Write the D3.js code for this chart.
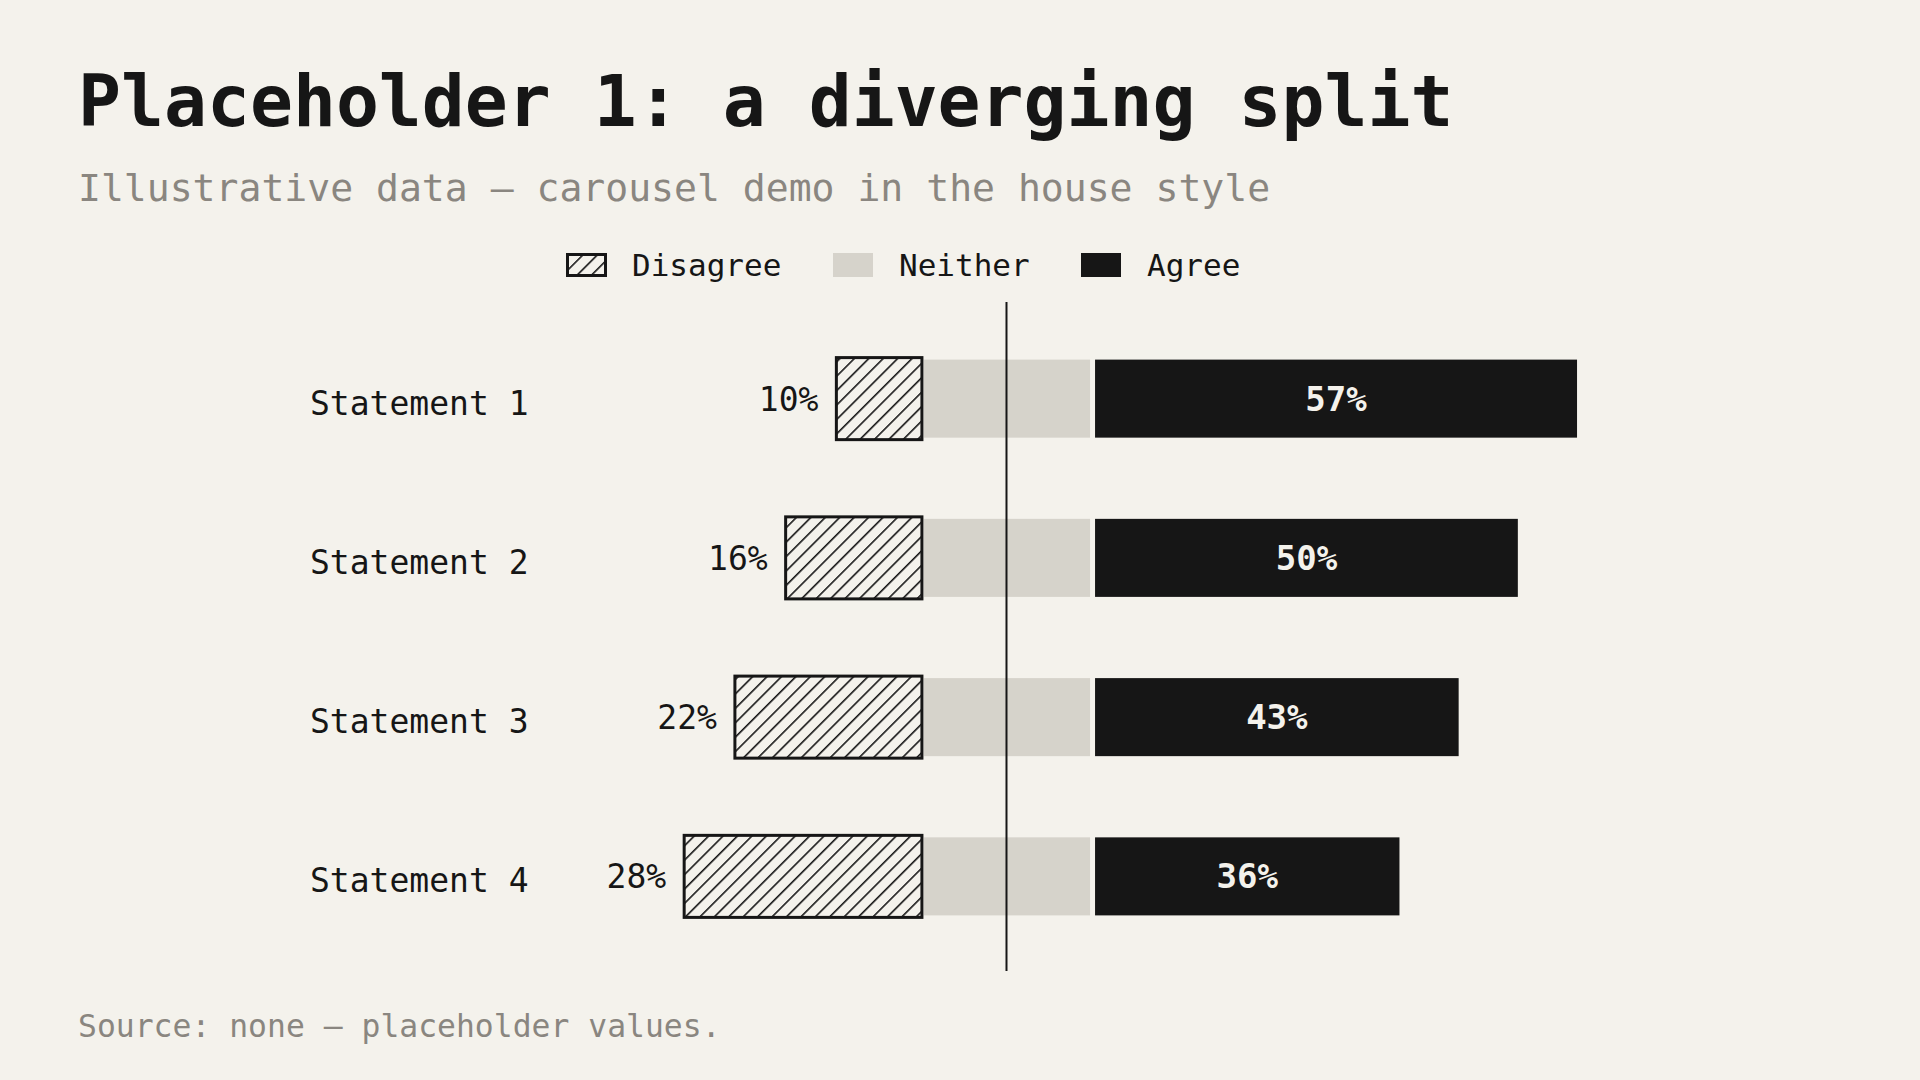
<!DOCTYPE html>
<html>
<head>
<meta charset="utf-8">
<script src="https://cdn.jsdelivr.net/npm/d3@7"></script>
<style>
  html, body { margin: 0; padding: 0; background: #f4f2ec; }
  svg { display: block; }
  text { font-family: "DejaVu Sans Mono", "Liberation Mono", monospace; }
</style>
</head>
<body>
<svg id="chart" width="1920" height="1080"></svg>
<script>
const categories = ["Statement 1", "Statement 2", "Statement 3", "Statement 4"];
const disagree = [10, 16, 22, 28];
const neither = [20, 20, 20, 20];
const agree = [57, 50, 43, 36];
const seriesNames = ["Disagree", "Neither", "Agree"];
const titleText = "Placeholder 1: a diverging split";
const subtitleText = "Illustrative data — carousel demo in the house style";
const sourceText = "Source: none — placeholder values.";

const BG = "#f4f2ec", INK = "#161616", MID = "#d6d3cb", GREY = "#8a8680";

const svg = d3.select("#chart");
svg.append("rect").attr("width", 1920).attr("height", 1080).attr("fill", BG);

const defs = svg.append("defs");
const pat = defs.append("pattern")
  .attr("id", "hatch").attr("patternUnits", "userSpaceOnUse")
  .attr("width", 10.2).attr("height", 10.2)
  .attr("patternTransform", "rotate(45)");
pat.append("rect").attr("width", 10.2).attr("height", 10.2).attr("fill", BG);
pat.append("line").attr("x1", 0).attr("y1", 0).attr("x2", 0).attr("y2", 10.2)
  .attr("stroke", INK).attr("stroke-width", 3.2);

// Titles
svg.append("text").attr("x", 78).attr("y", 126)
  .attr("font-size", 71.4).attr("font-weight", 700).attr("fill", INK)
  .text(titleText);
svg.append("text").attr("x", 78).attr("y", 201)
  .attr("font-size", 38.1).attr("fill", GREY)
  .text(subtitleText);
svg.append("text").attr("x", 78).attr("y", 1037)
  .attr("font-size", 31.4).attr("fill", GREY)
  .text(sourceText);

// Scales
const x = d3.scaleLinear().domain([-50, 70]).range([583.7, 1598.4]);
const y = d3.scaleBand().domain(categories).range([319, 956])
  .paddingInner(0.51).paddingOuter(0.255);
const bh = y.bandwidth();

const rows = categories.map((c, i) => ({ c, d: disagree[i], n: neither[i], a: agree[i] }));

const g = svg.append("g");

// Neither
g.selectAll(".nei").data(rows).join("rect")
  .attr("x", d => x(-d.n / 2) + 2)
  .attr("width", d => x(d.n / 2) - 1 - (x(-d.n / 2) + 2))
  .attr("y", d => y(d.c)).attr("height", bh)
  .attr("fill", MID);

// Disagree
g.selectAll(".dis").data(rows).join("rect")
  .attr("x", d => x(-d.n / 2 - d.d) - 1)
  .attr("width", d => x(-d.n / 2) - x(-d.n / 2 - d.d) + 1)
  .attr("y", d => y(d.c) - 2).attr("height", bh + 4)
  .attr("fill", "url(#hatch)").attr("stroke", INK).attr("stroke-width", 3);

// Agree
g.selectAll(".agr").data(rows).join("rect")
  .attr("x", d => x(d.n / 2) + 4)
  .attr("width", d => x(d.n / 2 + d.a) - x(d.n / 2))
  .attr("y", d => y(d.c)).attr("height", bh)
  .attr("fill", INK);

// Center line
svg.append("line").attr("x1", x(0)).attr("x2", x(0)).attr("y1", 302).attr("y2", 971)
  .attr("stroke", INK).attr("stroke-width", 2);

// Category labels
g.selectAll(".cat").data(rows).join("text")
  .attr("x", 310).attr("y", d => y(d.c) + bh / 2 + 16)
  .attr("font-size", 33).attr("fill", INK)
  .text(d => d.c);

// Disagree value labels
g.selectAll(".dl").data(rows).join("text")
  .attr("x", d => x(-d.n / 2 - d.d) - 19).attr("y", d => y(d.c) + bh / 2 + 12)
  .attr("text-anchor", "end").attr("font-size", 33).attr("fill", INK)
  .text(d => d.d + "%");

// Agree value labels
g.selectAll(".al").data(rows).join("text")
  .attr("x", d => (x(d.n / 2) + 4 + x(d.n / 2 + d.a) + 4) / 2)
  .attr("y", d => y(d.c) + bh / 2 + 12)
  .attr("text-anchor", "middle").attr("font-size", 34).attr("font-weight", 700)
  .attr("fill", BG)
  .text(d => d.a + "%");

// Legend
const legendX = [566, 833, 1081];
const legendFill = ["url(#hatch)", MID, INK];
const lg = svg.append("g");
seriesNames.forEach((name, i) => {
  const sw = lg.append("rect").attr("x", legendX[i]).attr("y", 253)
    .attr("width", 40).attr("height", 24).attr("fill", legendFill[i]);
  if (i === 0) sw.attr("stroke", INK).attr("stroke-width", 3)
    .attr("x", legendX[i] + 1.5).attr("y", 254.5).attr("width", 38).attr("height", 21);
  lg.append("text").attr("x", legendX[i] + 66).attr("y", 275.5)
    .attr("font-size", 31).attr("fill", INK).text(name);
});
</script>
</body>
</html>
